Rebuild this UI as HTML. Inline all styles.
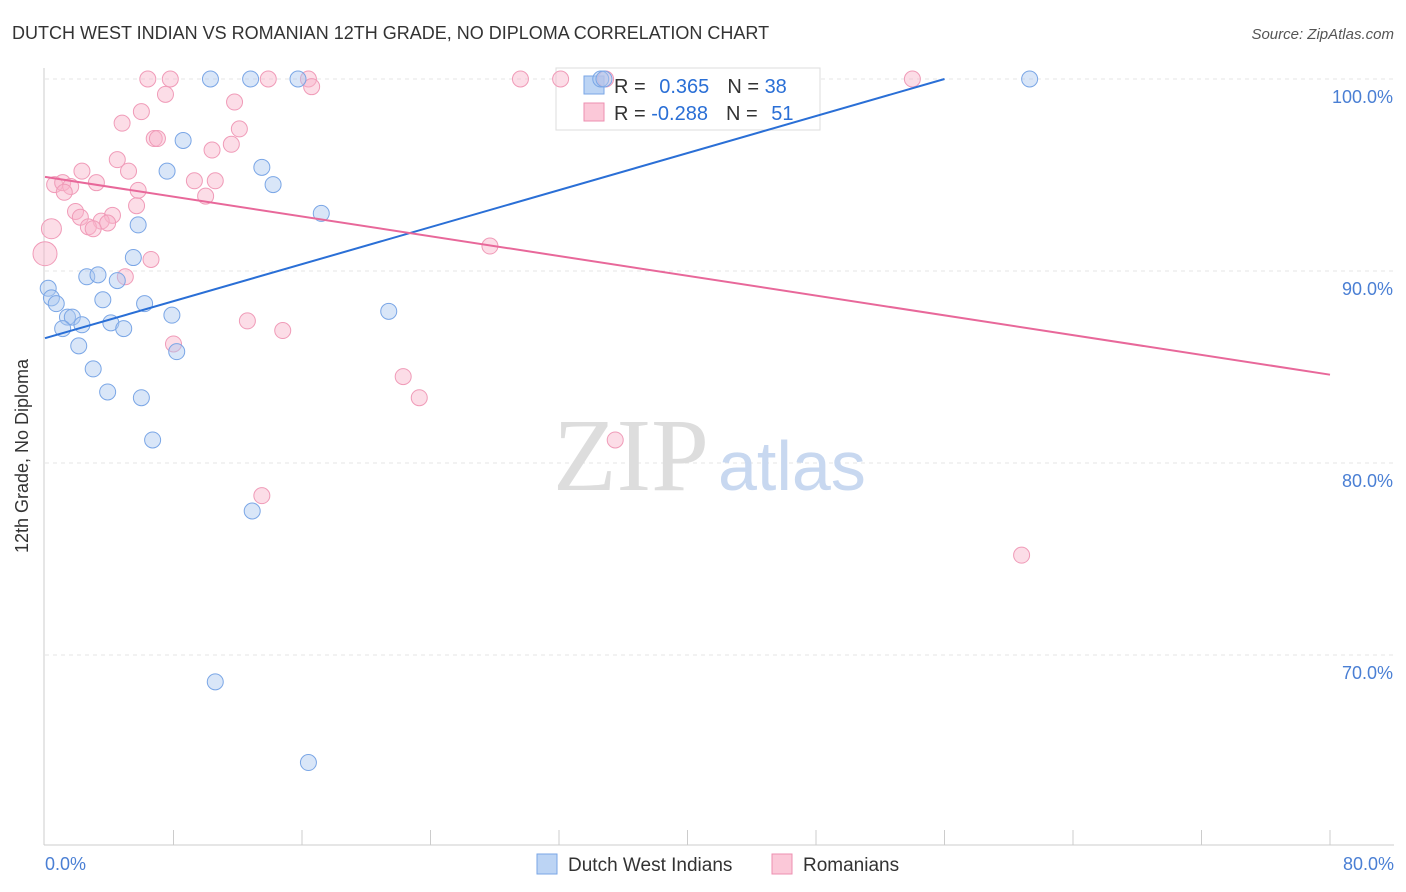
<!DOCTYPE html>
<html><head><meta charset="utf-8"><style>
body{margin:0;background:#fff;font-family:"Liberation Sans",sans-serif}
svg{display:block}
</style></head><body>
<svg id="chart" width="1406" height="892">
<text x="12" y="39" font-size="18" fill="#333">DUTCH WEST INDIAN VS ROMANIAN 12TH GRADE, NO DIPLOMA CORRELATION CHART</text>
<text x="1394" y="39" font-size="15" fill="#555" text-anchor="end" font-style="italic">Source: ZipAtlas.com</text>
<g id="grid"></g>
<line x1="44" y1="68" x2="44" y2="845" stroke="#ccc"/>
<line x1="44" y1="845" x2="1394" y2="845" stroke="#ccc"/>
<g id="xticks"></g>
<text x="28" y="456" font-size="18" fill="#333" text-anchor="middle" transform="rotate(-90 28 456)">12th Grade, No Diploma</text>
<text x="45" y="870" font-size="18" fill="#4a7fd4">0.0%</text>
<text x="1394" y="870" font-size="18" fill="#4a7fd4" text-anchor="end">80.0%</text>
<text x="553" y="490" font-size="104" fill="#ddd" font-family="Liberation Serif,serif">ZIP</text>
<text x="718" y="490" font-size="70" fill="#c8d8f0">atlas</text>
<g>
<rect x="556" y="68" width="264" height="62" fill="#fff" stroke="#ddd"/>
<rect x="584" y="76" width="20" height="18" fill="#bcd4f4" stroke="#7aa6e6"/>
<rect x="584" y="103" width="20" height="18" fill="#fbc8d8" stroke="#ee8fb0"/>
<text x="614" y="93" font-size="20" fill="#333">R = <tspan fill="#2a6fd6" dx="8">0.365</tspan><tspan fill="#333" dx="18">N = </tspan><tspan fill="#2a6fd6">38</tspan></text>
<text x="614" y="120" font-size="20" fill="#333">R = <tspan fill="#2a6fd6">-0.288</tspan><tspan fill="#333" dx="18">N = </tspan><tspan fill="#2a6fd6" dx="8">51</tspan></text>
</g>
<g id="pts"></g>
<g id="lines"></g>
<g>
<rect x="537" y="854" width="20" height="20" fill="#bcd4f4" stroke="#7aa6e6"/>
<text x="568" y="871" font-size="19" fill="#333">Dutch West Indians</text></g>
<g>
<rect x="772" y="854" width="20" height="20" fill="#fbc8d8" stroke="#ee8fb0"/>
<text x="803" y="871" font-size="19" fill="#333">Romanians</text></g>
</svg>
<script>
const yTicks=[100,90,80,70];
const yTickLabels=["100.0%","90.0%","80.0%","70.0%"];
const blueX=[10.3,12.8,15.75,61.3,8.6,7.6,13.5,14.2,17.2,5.8,5.5,2.6,3.3,4.5,0.2,0.4,0.7,3.6,6.2,1.4,1.7,7.9,21.4,1.1,2.3,4.1,4.9,2.1,8.2,3.0,3.9,6.0,6.7,12.9,10.6,16.4,34.6,34.8];
const blueY=[100,100,100,100,96.8,95.2,95.4,94.5,93.0,92.4,90.7,89.7,89.8,89.5,89.1,88.6,88.3,88.5,88.3,87.6,87.6,87.7,87.9,87.0,87.2,87.3,87.0,86.1,85.8,84.9,83.7,83.4,81.2,77.5,68.6,64.4,100,100];
const pinkX=[6.4,7.8,13.9,16.4,16.6,29.6,32.1,34.9,54.0,7.5,11.8,6.0,4.8,12.1,6.8,7.0,11.6,10.4,4.5,2.3,5.2,0.6,1.1,1.6,3.2,9.3,10.6,5.8,10.0,1.2,5.7,1.9,4.2,2.2,3.5,3.9,2.7,3.0,0.4,27.7,0.0,6.6,5.0,12.6,14.8,8.0,22.3,23.3,35.5,13.5,60.8];
const pinkY=[100,100,100,100,99.6,100,100,100,100,99.2,98.8,98.3,97.7,97.4,96.9,96.9,96.6,96.3,95.8,95.2,95.2,94.5,94.6,94.4,94.6,94.7,94.7,94.2,93.9,94.1,93.4,93.1,92.9,92.8,92.6,92.5,92.3,92.2,92.2,91.3,90.9,90.6,89.7,87.4,86.9,86.2,84.5,83.4,81.2,78.3,75.2];
const blueTrend=[0,86.5,56,100];
const pinkTrend=[0,94.9,80,84.6];
const X=v=>45+v/80*1285, Y=v=>79+(100-v)*19.2;
const NS="http://www.w3.org/2000/svg";
function mk(t,a,p){const e=document.createElementNS(NS,t);for(const k in a)e.setAttribute(k,a[k]);p.appendChild(e);return e;}
const grid=document.getElementById('grid');
yTicks.forEach((v,i)=>{
 const l=mk('line',{x1:45,x2:1394,y1:Y(v),y2:Y(v),stroke:'#e4e4e4','stroke-dasharray':'4,4'},grid);
 
 
 const t=mk('text',{x:1393,y:Y(v)+24,'font-size':18,fill:'#4a7fd4','text-anchor':'end'},grid);
 t.textContent=yTickLabels[i];
 
 
});
const xt=document.getElementById('xticks');
for(let i=1;i<=10;i++){const l=mk('line',{x1:X(i*8),x2:X(i*8),y1:830,y2:845,stroke:'#ccc'},xt);
 
 }
const pts=document.getElementById('pts');
pinkX.forEach((v,i)=>{const c=mk('circle',{cx:X(v),cy:Y(pinkY[i]),r:(v==0?12:(i==38?10:8)),fill:'rgba(248,180,202,0.45)',stroke:'#f09bb8','stroke-width':1},pts);
 
 });
blueX.forEach((v,i)=>{const c=mk('circle',{cx:X(v),cy:Y(blueY[i]),r:8,fill:'rgba(170,200,240,0.45)',stroke:'#7aa6e6','stroke-width':1},pts);
 
 });
const ln=document.getElementById('lines');
const b=mk('line',{x1:X(blueTrend[0]),y1:Y(blueTrend[1]),x2:X(blueTrend[2]),y2:Y(blueTrend[3]),stroke:'#2a6fd6','stroke-width':2},ln);


const p=mk('line',{x1:X(pinkTrend[0]),y1:Y(pinkTrend[1]),x2:X(pinkTrend[2]),y2:Y(pinkTrend[3]),stroke:'#e8689a','stroke-width':2},ln);


</script>
</body></html>
